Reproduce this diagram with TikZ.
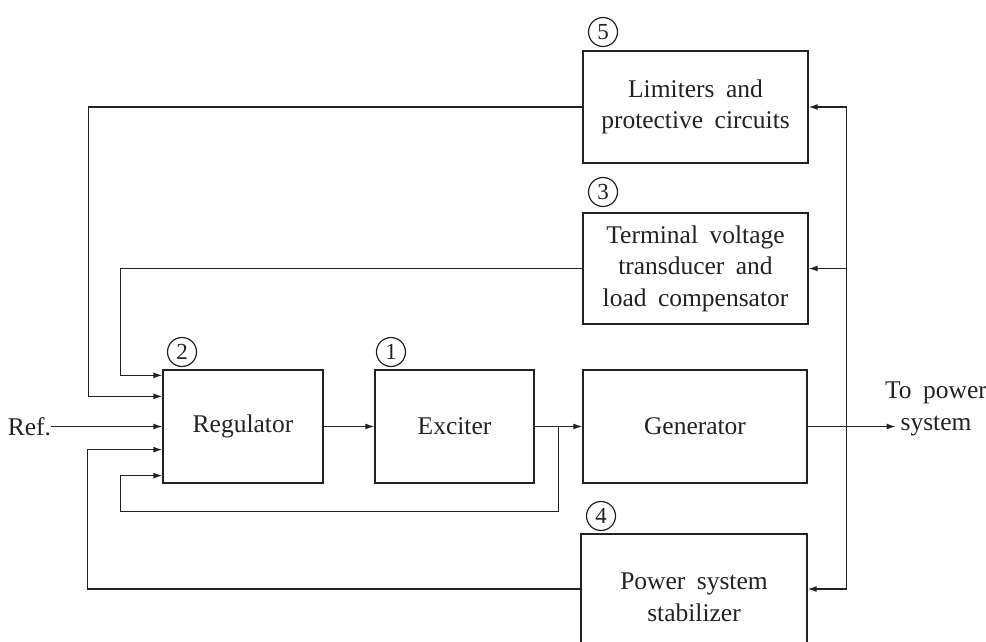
\documentclass[tikz,border=0pt]{standalone}
\usepackage{fontspec}
\setmainfont{Liberation Serif}[WordSpace=1.8]
\usetikzlibrary{arrows.meta,calc}
\definecolor{ink}{HTML}{222222}
\begin{document}
\begin{tikzpicture}[x=1pt,y=-1pt,
  txt/.style={font=\fontsize{25.5}{31.5}\selectfont, text=ink},
  blk/.style={draw=ink, line width=1.3pt, align=center, inner sep=0pt, txt},
  lbl/.style={align=center, inner sep=0pt, txt},
  num/.style={draw=ink, circle, line width=1.2pt, minimum size=29pt, inner sep=0pt, font=\fontsize{23}{23}\selectfont, text=ink},
  wire/.style={draw=ink, line width=1.3pt},
  tip/.tip={Latex[length=9pt,width=6pt]},
  arr/.style={wire, -tip},
  dbl/.style={wire, tip-tip}]
\useasboundingbox (0,0) rectangle (986,642);

% blocks
\node[blk, minimum width=225pt, minimum height=112pt] (lim) at (695.5,107) {Limiters and\\protective circuits};
\node[blk, minimum width=225pt, minimum height=111pt] (tvt) at (695.5,268.5) {Terminal voltage\\transducer and\\load compensator};
\node[blk, minimum width=160pt, minimum height=113pt] (reg) at (243,426.5) {Regulator};
\node[blk, minimum width=159pt, minimum height=113pt] (exc) at (454.5,426.5) {Exciter};
\node[blk, minimum width=224pt, minimum height=113pt] (gen) at (695,426.5) {Generator};
\node[blk, minimum width=226pt, minimum height=127pt] (pss) at (694,597.5) {Power system\\stabilizer};

% circled numbers
\node[num] (n5) at (603,32) {5};
\node[num] (n3) at (603,192) {3};
\node[num] (n2) at (182,352) {2};
\node[num] (n1) at (391,352) {1};
\node[num] (n4) at (601,516) {4};

% labels
\node[lbl] (ref) at (29.5,426.5) {Ref.};
\node[lbl] (tps) at (936,409) {To power\\system};

% helper coordinates
\coordinate (r1) at ($(reg.north west)+(0,6)$);
\coordinate (r2) at ($(reg.north west)+(0,27)$);
\coordinate (r4) at ($(reg.south west)+(0,-34)$);
\coordinate (r5) at ($(reg.south west)+(0,-8)$);
\coordinate (j) at ($(exc.east)!0.5!(gen.west)$);
\coordinate (out) at ($(gen.east)+(88,0)$);
\coordinate (bt) at ($(lim.east)+(38,0)$);
\coordinate (pin) at ($(pss.east)+(0,-8.5)$);
\coordinate (pout) at ($(pss.west)+(0,-8.5)$);
\coordinate (bb) at ($(pin)+(39,0)$);

% main path
\draw[arr] (ref.east) -- (reg.west);
\draw[arr] (reg.east) -- (exc.west);
\draw[arr] (exc.east) -- (gen.west);
\draw[arr] (gen.east) -- (out);

% feedbacks into regulator
\draw[arr] (lim.west) -| ($(r2)+(-74,0)$) -- (r2);
\draw[arr] (tvt.west) -| ($(r1)+(-42,0)$) -- (r1);
\draw[arr] (pout) -| ($(r4)+(-75,0)$) -- (r4);
\draw[arr] (j) |- ($(r5)+(-42,36)$) |- (r5);

% terminal bus
\draw[dbl] (lim.east) -- (bt) -- (bb) -- (pin);
\draw[arr] (tvt.east -| bt) -- (tvt.east);
\end{tikzpicture}
\end{document}
